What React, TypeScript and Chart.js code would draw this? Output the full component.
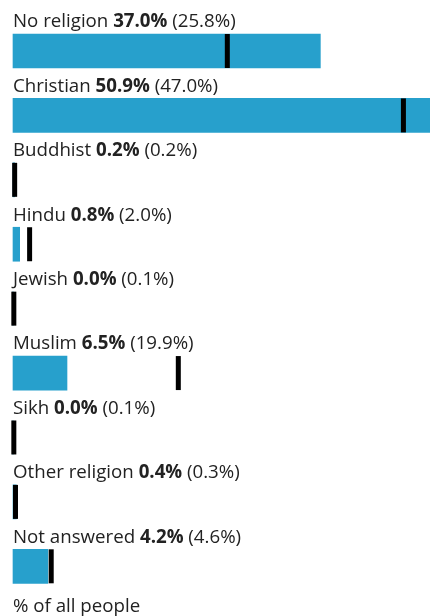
import React, { useEffect, useRef } from "react";
import { Chart, registerables } from "chart.js";

Chart.register(...registerables);

const categories = [
  "No religion",
  "Christian",
  "Buddhist",
  "Hindu",
  "Jewish",
  "Muslim",
  "Sikh",
  "Other religion",
  "Not answered",
];
const areaValues = [37.0, 50.9, 0.2, 0.8, 0.0, 6.5, 0.0, 0.4, 4.2];
const comparisonValues = [25.8, 47.0, 0.2, 2.0, 0.1, 19.9, 0.1, 0.3, 4.6];
const axisTitle = "% of all people";

const BAR_COLOR = "#27a0cc";
const MARK_COLOR = "#000000";
const TEXT_COLOR = "#222222";
const FONT = "'Open Sans', 'Noto Sans', sans-serif";
const FONT_SIZE = 18.7;
const BAR_H = 34;

const fmt = (v: number) => v.toFixed(1) + "%";

const rowLabelPlugin = {
  id: "rowLabels",
  afterDatasetsDraw(chart: any) {
    const { ctx, chartArea } = chart;
    const yScale = chart.scales.y;
    ctx.save();
    ctx.textAlign = "left";
    ctx.textBaseline = "alphabetic";
    ctx.fillStyle = TEXT_COLOR;
    const normal = `400 ${FONT_SIZE}px ${FONT}`;
    const bold = `700 ${FONT_SIZE}px ${FONT}`;
    categories.forEach((name, i) => {
      const cy = yScale.getPixelForValue(i);
      const base = cy - BAR_H / 2 - 6.7;
      let x = chartArea.left;
      const parts: [string, string][] = [
        [name + " ", normal],
        [fmt(areaValues[i]), bold],
        [" (" + fmt(comparisonValues[i]) + ")", normal],
      ];
      parts.forEach(([t, f]) => {
        ctx.font = f;
        ctx.fillText(t, x, base);
        x += ctx.measureText(t).width;
      });
    });
    ctx.restore();
  },
};

export default function App() {
  const ref = useRef<HTMLCanvasElement>(null);

  useEffect(() => {
    if (!ref.current) return;
    const chart = new Chart(ref.current, {
      type: "bar",
      data: {
        labels: categories,
        datasets: [
          {
            type: "line",
            label: "Comparison",
            data: comparisonValues,
            showLine: false,
            pointStyle: "line",
            pointRadius: 17,
            pointHoverRadius: 17,
            pointRotation: 90,
            pointBorderWidth: 5,
            pointHoverBorderWidth: 5,
            borderColor: MARK_COLOR,
            backgroundColor: MARK_COLOR,
            clip: false,
            order: 0,
          } as any,
          {
            type: "bar",
            label: "Area",
            data: areaValues,
            backgroundColor: BAR_COLOR,
            borderWidth: 0,
            barThickness: BAR_H,
            clip: false,
            order: 1,
          },
        ],
      },
      options: {
        indexAxis: "y",
        animation: false,
        responsive: false,
        maintainAspectRatio: false,
        devicePixelRatio: 1,
        layout: { autoPadding: false, padding: { left: 13, right: 0, top: 51, bottom: 0 } },
        plugins: {
          legend: { display: false },
          tooltip: { enabled: false },
        },
        events: [],
        scales: {
          x: {
            type: "linear",
            min: 0,
            max: 50.2,
            position: "bottom",
            grid: { display: false, drawTicks: false },
            border: { display: false },
            ticks: { display: false },
            title: {
              display: true,
              text: axisTitle,
              align: "start",
              color: TEXT_COLOR,
              font: { family: FONT, size: FONT_SIZE, lineHeight: 1 },
              padding: { top: 31, bottom: 0 },
            },
          },
          y: {
            type: "category",
            display: false,
            offset: false,
          },
        },
      },
      plugins: [rowLabelPlugin],
    } as any);
    const fonts: any = (document as any).fonts;
    if (fonts && fonts.load) {
      Promise.all([
        fonts.load(`400 ${FONT_SIZE}px 'Open Sans'`),
        fonts.load(`700 ${FONT_SIZE}px 'Open Sans'`),
      ])
        .then(() => chart.draw())
        .catch(() => {});
    }
    return () => chart.destroy();
  }, []);

  return (
    <div style={{ position: "absolute", left: 0, top: 0, width: 430, height: 616, overflow: "hidden" }}>
      <canvas ref={ref} width={430} height={616} style={{ display: "block" }} />
    </div>
  );
}
